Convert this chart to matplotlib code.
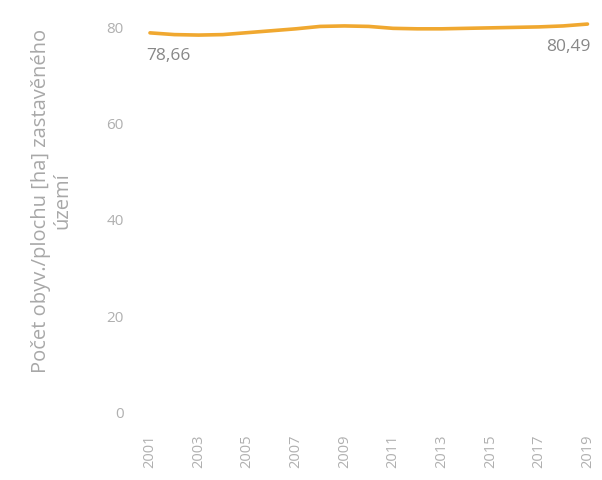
# plot.py
# Population per built-up area (ha), 2001 - 2019
import matplotlib.pyplot as plt

years = list(range(2001, 2020))
values = [78.66, 78.3, 78.2, 78.3, 78.7, 79.1, 79.5, 80.0, 80.1, 80.0,
          79.6, 79.5, 79.5, 79.6, 79.7, 79.8, 79.9, 80.1, 80.49]
yticks = [0, 20, 40, 60, 80]
xticks = list(range(2001, 2020, 2))

plt.rcParams['font.family'] = ['Open Sans', 'DejaVu Sans']

fig = plt.figure(figsize=(6.02, 4.81), dpi=100)
ax = fig.add_axes([0.233, 0.143, 0.755, 0.83])

ax.plot(years, values, color='#f0a830', linewidth=2.6, solid_capstyle='round')

# labels at first and last point
ax.annotate('78,66', (years[0], values[0]), textcoords='offset points',
            xytext=(-3, -16), ha='left', va='center', fontsize=12.5, color='#888888')
ax.annotate('80,49', (years[-1], values[-1]), textcoords='offset points',
            xytext=(2, -16), ha='right', va='center', fontsize=12.5, color='#888888')

ax.set_ylim(0, 83)
ax.set_xlim(2000.6, 2019.3)
ax.set_yticks(yticks)
ax.set_xticks(xticks)
ax.set_xticklabels([str(y) for y in xticks], rotation=90)
ax.tick_params(axis='both', length=0, colors='#b0b0b0')
ax.tick_params(axis='y', pad=12, labelsize=11)
ax.tick_params(axis='x', pad=16, labelsize=10.5)

for s in ax.spines.values():
    s.set_visible(False)

ax.set_ylabel('Počet obyv./plochu [ha] zastavěného\núzemí', fontsize=14.5,
              color='#a8a8a8', linespacing=1.1)
ax.yaxis.set_label_coords(-0.15, 0.53)

plt.savefig('out.png', dpi=100)
